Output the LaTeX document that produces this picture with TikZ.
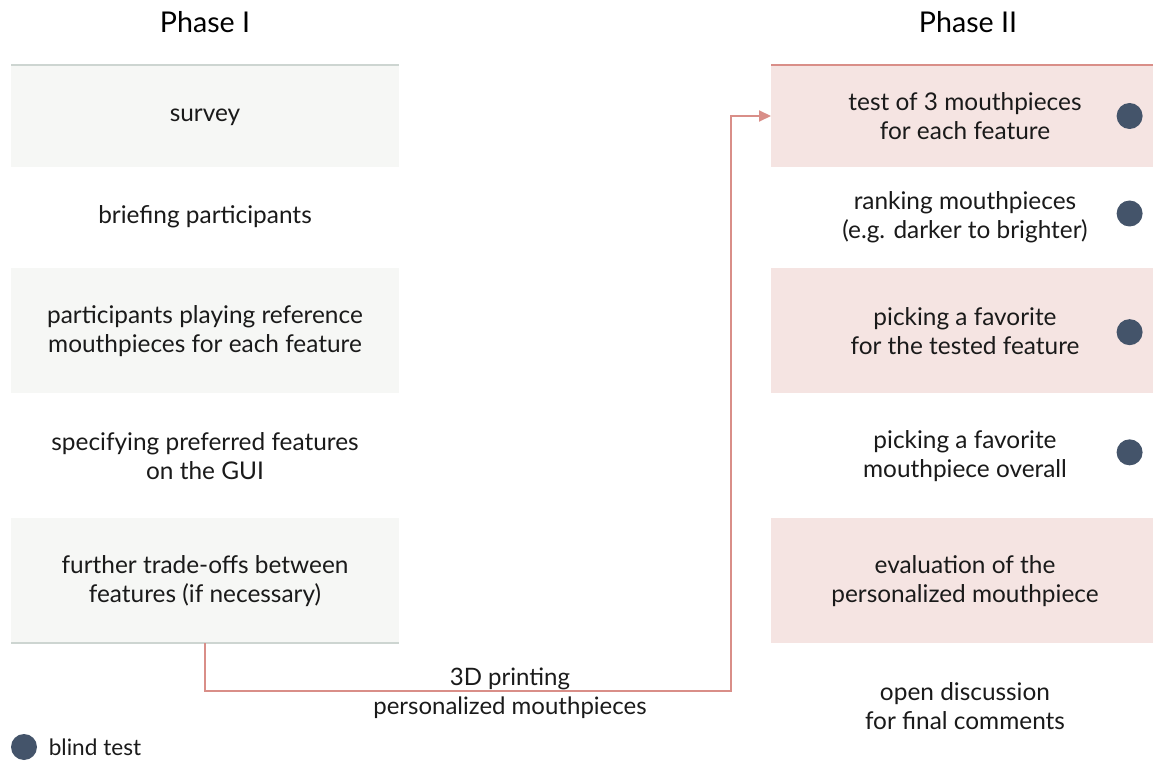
\documentclass[tikz,border=0pt]{standalone}
\usepackage{fontspec}
\setmainfont{Lato}
\usepackage{tikz}
\usetikzlibrary{
    arrows.meta,
    positioning
}
\definecolor{phgray}{HTML}{F6F7F5}
\definecolor{phgrayline}{HTML}{CDD5D1}
\definecolor{phpink}{HTML}{F5E4E2}
\definecolor{phpinkline}{HTML}{D98E88}
\definecolor{phdot}{HTML}{44546A}
\definecolor{phtext}{HTML}{1A1A1A}
\tikzset{
    % Phase step, white or shaded
    stepbox/.style={
        rectangle,
        fill=#1,
        draw=none,
        text=phtext,
        font=\fontsize{12.2}{14.5}\selectfont,
        align=center,
        inner sep=0pt,
        outer sep=0pt
    },
    stepbox/.default=white,
    % Row heights
    shortrow/.style={minimum height=50.75pt},
    tallrow/.style={minimum height=62.5pt},
    % Column widths
    leftcol/.style={minimum width=194pt},
    rightcol/.style={minimum width=194pt},
    % Phase heading
    phasetitle/.style={
        font=\fontsize{14.3}{16}\selectfont,
        text=black,
        inner sep=0pt
    },
    % Blind test marker
    blinddot/.style={
        circle,
        fill=phdot,
        minimum size=13pt,
        inner sep=0pt
    },
    % Edge rule of a column
    edgerule/.style={
        line width=1pt,
        color=#1
    },
    % Arrow style
    flowarrow/.style={
        -{Triangle[length=6pt,width=5.5pt]},
        line width=1pt,
        color=phpinkline
    },
    % Arrow and legend text
    notetext/.style={
        font=\fontsize{12}{14.5}\selectfont,
        text=phtext,
        align=center,
        inner sep=0pt
    }
}

\begin{document}
\begin{tikzpicture}[x=0.5pt,y=-0.5pt]
    \useasboundingbox (0,0) rectangle (1153,765);

    % Phase I
    \node[phasetitle] (ph1) at (205,22) {Phase I};
    \node[stepbox=phgray, leftcol, shortrow] (p1) at (205,116) {\strut survey};
    \node[stepbox, leftcol, shortrow, below=0pt of p1] (p2) {\strut briefing participants};
    \node[stepbox=phgray, leftcol, tallrow, below=0pt of p2] (p3) {participants playing reference\\mouthpieces for each feature};
    \node[stepbox, leftcol, tallrow, below=0pt of p3] (p4) {specifying preferred features\\on the GUI};
    \node[stepbox=phgray, leftcol, tallrow, below=0pt of p4] (p5) {further trade-offs between\\features (if necessary)};
    \draw[edgerule=phgrayline] (p1.north west) -- (p1.north east);
    \draw[edgerule=phgrayline] (p5.south west) -- (p5.south east);

    % Phase II
    \node[phasetitle] (ph2) at (968,22) {Phase II};
    \node[stepbox=phpink, rightcol, shortrow] (q1) at (965,116) {test of 3 mouthpieces\\for each feature};
    \node[stepbox, rightcol, shortrow, below=0pt of q1] (q2) {ranking mouthpieces\\(e.g. darker to brighter)};
    \node[stepbox=phpink, rightcol, tallrow, below=0pt of q2] (q3) {picking a favorite\\for the tested feature};
    \node[stepbox, rightcol, tallrow, below=0pt of q3] (q4) {picking a favorite\\mouthpiece overall};
    \node[stepbox=phpink, rightcol, tallrow, below=0pt of q4] (q5) {evaluation of the\\personalized mouthpiece};
    \node[stepbox, rightcol, tallrow, below=0pt of q5] (q6) {open discussion\\for final comments};
    \draw[edgerule=phpinkline] (q1.north west) -- (q1.north east);

    % blind tests
    \node[blinddot, left=8pt of q1.east] (d1) {};
    \node[blinddot, left=8pt of q2.east, yshift=2pt] (d2) {};
    \node[blinddot, left=8pt of q3.east, yshift=-0.7pt] (d3) {};
    \node[blinddot, left=8pt of q4.east, yshift=1.7pt] (d4) {};

    % printing step between the phases
    \coordinate (turn) at (731,691);
    \draw[flowarrow] (p5.south) |- (turn) |- (q1.west);
    \node[notetext] (print) at (510,693) {3D printing\\personalized mouthpieces};

    % legend
    \node[blinddot] (key) at (24,747) {};
    \node[notetext, font=\fontsize{11.3}{14}\selectfont, right=5.5pt of key] (keytext) {blind test};
\end{tikzpicture}
\end{document}
